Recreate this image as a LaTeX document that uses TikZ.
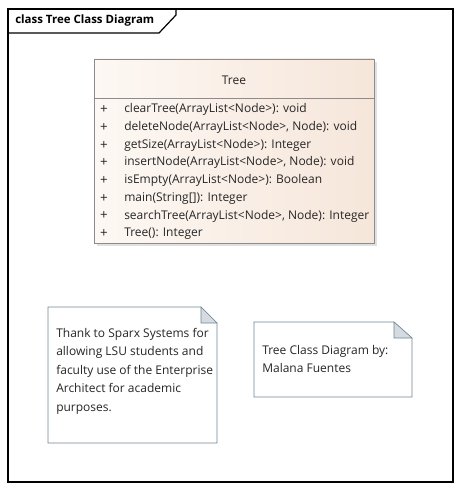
\documentclass[tikz,border=0pt]{standalone}
\usepackage{fontspec}
\setmainfont{Open Sans}
\usetikzlibrary{positioning}
\definecolor{notebd}{HTML}{6E8796}
\definecolor{foldfill}{HTML}{D5DBE0}
\definecolor{classbd}{HTML}{8C8C8C}
\definecolor{classlt}{HTML}{FDF8F4}
\definecolor{classdk}{HTML}{F6E6DA}
\definecolor{txt}{HTML}{262626}

\begin{document}
\begin{tikzpicture}[x=0.75pt, y=-0.75pt, every node/.style={font=\fontsize{9}{10}\selectfont, text=txt, inner sep=0pt}]
  \useasboundingbox (0,0) rectangle (460,491);
  % diagram frame and title tab
  \draw[line width=0.9pt] (8,9) rectangle (453,482);
  \draw[line width=0.9pt] (8,33) -- (159,33) -- (176,15) -- (176,9);
  \node[anchor=west, font=\fontsize{8.6}{10}\selectfont\bfseries, text=black] (title) at (15,21) {class Tree Class Diagram};
  % class Tree: shadow, body, header line
  \fill[black!12] (97,62) rectangle (377,246);
  \shade[left color=classlt, right color=classdk, draw=classbd] (94,59) rectangle (374,243);
  \draw[classbd] (94,98) -- (374,98);
  \node (cls) at (234,80) {Tree};
  % operations
  \foreach \op [count=\i] in {clearTree(ArrayList<Node>): void,
      {deleteNode(ArrayList<Node>, Node): void},
      getSize(ArrayList<Node>): Integer,
      {insertNode(ArrayList<Node>, Node): void},
      isEmpty(ArrayList<Node>): Boolean,
      main(String[]): Integer,
      {searchTree(ArrayList<Node>, Node): Integer},
      Tree(): Integer}
  {
    \node[font=\fontsize{10}{10}\selectfont] (plus\i) at (104,92+17.7*\i) {+};
    \node[anchor=west] (op\i) at (124,92+17.7*\i) {\op};
  }
  % note: thanks
  \draw[notebd, fill=white] (48,307) -- (201,307) -- (217,323) -- (217,443) -- (48,443) -- cycle;
  \draw[notebd, fill=foldfill] (201,307) -- (201,323) -- (217,323) -- cycle;
  \node[anchor=north west, align=left, font=\fontsize{9}{13.8}\selectfont] (thanks) at (56,328)
    {Thank to Sparx Systems for\\allowing LSU students and\\faculty use of the Enterprise\\Architect for academic\\purposes.};
  % note: author
  \draw[notebd, fill=white] (254,322) -- (394,322) -- (412,338) -- (412,397) -- (254,397) -- cycle;
  \draw[notebd, fill=foldfill] (394,322) -- (394,338) -- (412,338) -- cycle;
  \node[anchor=north west, align=left, font=\fontsize{9}{13.8}\selectfont] (author) at (262,345)
    {Tree Class Diagram by:\\Malana Fuentes};
\end{tikzpicture}
\end{document}
